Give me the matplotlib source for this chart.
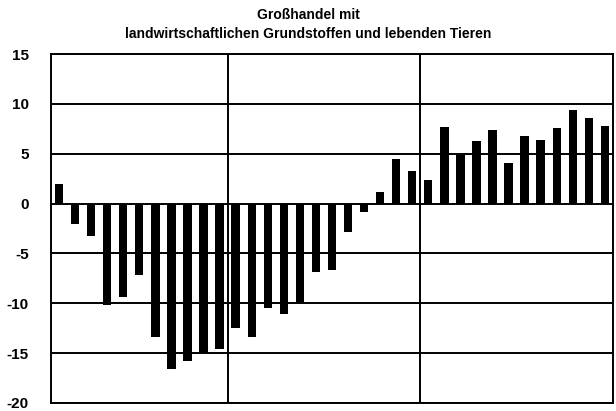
import matplotlib.pyplot as plt
import numpy as np

# monthly changes, 35 bars; year boundaries after bar 11 and bar 23
values = [2.0, -2.0, -3.3, -10.2, -9.4, -7.2, -13.4, -16.6, -15.8, -15.0,
          -14.6, -12.5, -13.4, -10.5, -11.1, -9.9, -6.9, -6.7, -2.9, -0.8,
          1.2, 4.5, 3.3, 2.4, 7.7, 4.9, 6.3, 7.4, 4.1, 6.8,
          6.4, 7.6, 9.4, 8.6, 7.8]
year_breaks = [11, 23]
yticks = [15, 10, 5, 0, -5, -10, -15, -20]
title = "Großhandel mit\nlandwirtschaftlichen Grundstoffen und lebenden Tieren"

plt.rcParams['font.family'] = ['Liberation Sans', 'DejaVu Sans']

fig = plt.figure(figsize=(6.16, 4.11), dpi=100)
ax = fig.add_axes([0.0828, 0.0195, 0.9122, 0.8491])

x = np.arange(len(values))
ax.bar(x, values, width=0.52, color="black", zorder=3)

ax.set_xlim(-0.5, len(values) - 0.5)
ax.set_ylim(-20, 15)
ax.set_yticks(yticks)
ax.set_yticklabels([str(t) for t in yticks], fontweight="bold", fontsize=11)
ax.tick_params(axis="y", length=0, pad=16)
ax.set_xticks([])

for t in yticks:
    ax.axhline(t, color="black", lw=1.4, zorder=1)
for b in year_breaks:
    ax.axvline(b - 0.5, color="black", lw=1.4, zorder=1)
for s in ax.spines.values():
    s.set_linewidth(1.4)

fig.text(0.5, 0.98, title, ha="center", va="top", fontweight="bold",
         fontsize=10, linespacing=1.45)

fig.savefig("out.png", dpi=100)
